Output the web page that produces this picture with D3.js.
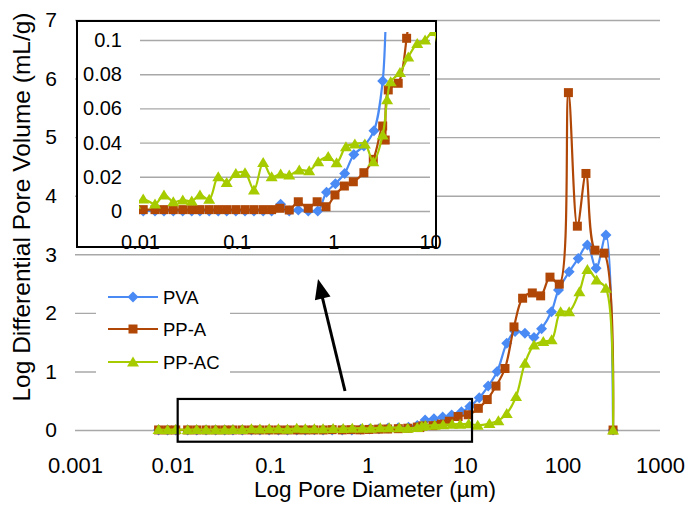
<!DOCTYPE html>
<html>
<head>
<meta charset="utf-8">
<script src="https://cdn.jsdelivr.net/npm/d3@7"></script>
<style>
  body { margin: 0; background: #fff; }
  svg text { font-family: "Liberation Sans", Arial, sans-serif; fill: #000; }
</style>
</head>
<body>
<div class="chart"></div>
<script>

// pore diameter (um) and log differential pore volume (mL/g)
const pvaX = [0.0072, 0.0089, 0.0108, 0.0143, 0.0177, 0.0221, 0.0277, 0.0343, 0.0417, 0.052,
  0.0645, 0.0788, 0.098, 0.122, 0.151, 0.188, 0.23, 0.285, 0.35, 0.434, 0.55, 0.69, 0.85,
  1.05, 1.31, 1.63, 2.07, 2.63, 3.24, 3.9, 4.8, 5.9, 7.3, 9.2, 11.2, 14, 17.3, 21.4, 26.8,
  32.6, 41.2, 51, 61, 77, 91, 117, 145, 180, 221, 279, 330];
const pvaY = [0, 0, 0, 0, 0, 0, 0, 0, 0, 0,
  0, 0, 0, 0, 0, 0, 0, 0.004, 0, 0.0006, 0, 0, 0.011,
  0.016, 0.022, 0.033, 0.038, 0.047, 0.076, 0.17, 0.19, 0.22, 0.256, 0.31, 0.40, 0.55, 0.75, 1.0, 1.48,
  1.68, 1.65, 1.58, 1.73, 2.02, 2.39, 2.70, 2.93, 3.16, 2.76, 3.33, 0];

const ppaX = [0.0072, 0.0089, 0.0108, 0.0143, 0.0177, 0.0221, 0.0277, 0.0343, 0.0417, 0.052,
  0.0645, 0.0788, 0.098, 0.122, 0.151, 0.188, 0.23, 0.28, 0.35, 0.434, 0.55, 0.68, 0.84,
  1.04, 1.30, 1.61, 2.07, 2.59, 3.24, 3.44, 3.70, 4.69, 5.73, 6.9, 8.5, 10.8, 13.7, 16.9, 20.8,
  25.7, 31.8, 39, 49, 59.7, 74.4, 92.7, 115, 142, 174, 215, 267, 330];
const ppaY = [0.0008, 0.0008, 0.0008, 0.0008, 0.0008, 0.0008, 0.0008, 0.0008, 0.0008, 0.0008,
  0.0008, 0.0008, 0.0008, 0.0008, 0.0008, 0.0008, 0.0008, 0.0016, 0.0006, 0.0054, 0.0016, 0.0054, 0.0025,
  0.0094, 0.0146, 0.0171, 0.0224, 0.0302, 0.0497, 0.0415, 0.0708, 0.0747, 0.101, 0.15, 0.23, 0.26, 0.37, 0.52, 0.75,
  1.05, 1.76, 2.25, 2.34, 2.29, 2.61, 2.49, 5.76, 3.48, 4.38, 3.07, 3.02, 0];

const ppacX = [0.0072, 0.0089, 0.0108, 0.0143, 0.0177, 0.0221, 0.0277, 0.0343, 0.0417, 0.052,
  0.0645, 0.0788, 0.098, 0.122, 0.151, 0.188, 0.23, 0.285, 0.35, 0.444, 0.563, 0.698, 0.885,
  1.08, 1.35, 1.67, 2.12, 2.59, 3.24, 3.6, 3.92, 4.89, 5.96, 7.38, 8.9, 10.9, 13.5, 17.8, 22,
  26.8, 33.4, 41.2, 51, 63.5, 77.4, 95.7, 117, 149, 180, 224, 279, 330];
const ppacY = [0.008, 0.004, 0.007, 0.0041, 0.0094, 0.0054, 0.0064, 0.0058, 0.0094, 0.0068,
  0.020, 0.0166, 0.022, 0.0224, 0.0123, 0.0283, 0.020, 0.0216, 0.021, 0.024, 0.0236, 0.0288, 0.0318,
  0.0282, 0.0376, 0.0392, 0.0392, 0.0288, 0.0444, 0.065, 0.0756, 0.081, 0.090, 0.098, 0.10, 0.105, 0.08, 0.11, 0.16,
  0.28, 0.57, 1.14, 1.45, 1.51, 1.54, 2.02, 2.02, 2.36, 2.74, 2.56, 2.42, 0];

const seriesNames = ['PVA', 'PP-A', 'PP-AC'];
const seriesColors = ['#4a8af4', '#b04706', '#a6cc00'];
const seriesShapes = ['diamond', 'square', 'triangle'];

const mainXTicks = [0.001, 0.01, 0.1, 1, 10, 100, 1000];
const mainYTicks = [0, 1, 2, 3, 4, 5, 6, 7];
const insetXTicks = [0.01, 0.1, 1, 10];
const insetYTicks = [0, 0.02, 0.04, 0.06, 0.08, 0.1];

(function() {

  let svg = d3.select('.chart').append('svg')
    .attr('width', 686)
    .attr('height', 506);

  let series = [
    { x: pvaX, y: pvaY },
    { x: ppaX, y: ppaY },
    { x: ppacX, y: ppacY }
  ].map((s, i) => ({
    name: seriesNames[i],
    color: seriesColors[i],
    shape: seriesShapes[i],
    points: s.x.map((x, j) => [x, s.y[j]])
  }));

  // marker path for each shape
  function markerPath(shape) {
    if (shape === 'diamond') return 'M0,-5.5L5.5,0L0,5.5L-5.5,0Z';
    if (shape === 'square') return 'M-4.5,-4.5H4.5V4.5H-4.5Z';
    return 'M0,-5.5L6,4.5L-6,4.5Z';
  }

  // ---------------- main chart ----------------
  let xMain = d3.scaleLog().domain([0.001, 1000]).range([75, 660]);
  let yMain = d3.scaleLinear().domain([0, 7]).range([430, 20]);

  // grid lines
  svg.append('g')
    .attr('transform', 'translate(75, 0)')
    .call(d3.axisLeft(yMain).tickValues(mainYTicks).tickSize(-(660 - 75)).tickFormat(''))
    .call(g => g.select('.domain').remove())
    .call(g => g.selectAll('line').attr('stroke', '#a8a8a8').attr('stroke-width', 1.4));

  // y tick labels
  svg.append('g')
    .attr('transform', 'translate(75, 0)')
    .call(d3.axisLeft(yMain).tickValues(mainYTicks).tickSize(0).tickPadding(18).tickFormat(d => String(d)))
    .call(g => g.select('.domain').remove())
    .call(g => g.selectAll('text').attr('font-size', 21).attr('font-family', null).attr('fill', '#000'));

  // x tick labels
  svg.append('g')
    .attr('transform', 'translate(0, 430)')
    .call(d3.axisBottom(xMain).tickValues(mainXTicks).tickSize(0).tickPadding(27).tickFormat(d => String(d)))
    .call(g => g.select('.domain').remove())
    .call(g => g.selectAll('text').attr('font-size', 22).attr('font-family', null).attr('fill', '#000'));

  svg.append('text')
    .attr('x', 375)
    .attr('y', 497)
    .attr('text-anchor', 'middle')
    .attr('font-size', 22.5)
    .text('Log Pore Diameter (µm)');

  svg.append('text')
    .attr('transform', 'translate(30, 207)rotate(-90)')
    .attr('text-anchor', 'middle')
    .attr('font-size', 24.5)
    .text('Log Differential Pore Volume (mL/g)');

  function drawSeries(g, xScale, yScale, clip) {
    let line = d3.line()
      .x(d => xScale(d[0]))
      .y(d => yScale(d[1]))
      .curve(d3.curveCatmullRom.alpha(0.5));

    series.forEach(s => {
      let sg = g.append('g');
      if (clip) sg.attr('clip-path', 'url(#' + clip + ')');
      sg.append('path')
        .datum(s.points)
        .attr('d', line)
        .attr('fill', 'none')
        .attr('stroke', s.color)
        .attr('stroke-width', 2.2);
      sg.selectAll('.mk')
        .data(s.points)
        .enter()
        .append('path')
          .attr('d', markerPath(s.shape))
          .attr('transform', d => 'translate(' + xScale(d[0]) + ',' + yScale(d[1]) + ')')
          .attr('fill', s.color);
    });
  }

  drawSeries(svg.append('g'), xMain, yMain, null);

  // box marking the zoomed region and the arrow to the inset
  svg.append('rect')
    .attr('x', xMain(0.0113))
    .attr('y', yMain(0.53))
    .attr('width', xMain(11.8) - xMain(0.0113))
    .attr('height', yMain(-0.2) - yMain(0.53))
    .attr('fill', 'none')
    .attr('stroke', '#000')
    .attr('stroke-width', 2.2);

  svg.append('line')
    .attr('x1', 345).attr('y1', 391)
    .attr('x2', 322).attr('y2', 296)
    .attr('stroke', '#000')
    .attr('stroke-width', 3);
  svg.append('path')
    .attr('d', 'M318,279L330.5,296.5L314.9,300.3Z')
    .attr('fill', '#000');

  // legend
  let legend = svg.append('g');
  legend.append('rect')
    .attr('x', 96).attr('y', 282)
    .attr('width', 134).attr('height', 92)
    .attr('fill', '#fff');
  let legendY = [297, 329, 362];
  series.forEach((s, i) => {
    legend.append('line')
      .attr('x1', 108).attr('x2', 158)
      .attr('y1', legendY[i]).attr('y2', legendY[i])
      .attr('stroke', s.color)
      .attr('stroke-width', 2.2);
    legend.append('path')
      .attr('d', markerPath(s.shape))
      .attr('transform', 'translate(133,' + legendY[i] + ')')
      .attr('fill', s.color);
    legend.append('text')
      .attr('x', 163)
      .attr('y', legendY[i])
      .attr('dy', '0.36em')
      .attr('font-size', 18.5)
      .text(s.name);
  });

  // ---------------- inset ----------------
  let xIn = d3.scaleLog().domain([0.01, 10]).range([140, 430]);
  let yIn = d3.scaleLinear().domain([0, 0.1]).range([211, 40]);

  svg.append('defs').append('clipPath')
    .attr('id', 'insetClip')
    .append('rect')
    .attr('x', 139).attr('y', 32)
    .attr('width', 297).attr('height', 190);

  let inset = svg.append('g');
  inset.append('rect')
    .attr('x', 77).attr('y', 21)
    .attr('width', 359).attr('height', 226)
    .attr('fill', '#fff')
    .attr('stroke', '#000')
    .attr('stroke-width', 2);

  inset.append('g')
    .attr('transform', 'translate(140, 0)')
    .call(d3.axisLeft(yIn).tickValues(insetYTicks).tickSize(-(430 - 140)).tickFormat(''))
    .call(g => g.select('.domain').remove())
    .call(g => g.selectAll('line').attr('stroke', '#a8a8a8').attr('stroke-width', 1.4));

  inset.append('g')
    .attr('transform', 'translate(140, 0)')
    .call(d3.axisLeft(yIn).tickValues(insetYTicks).tickSize(0).tickPadding(18).tickFormat(d => String(d)))
    .call(g => g.select('.domain').remove())
    .call(g => g.selectAll('text').attr('font-size', 20).attr('font-family', null).attr('fill', '#000'));

  inset.append('g')
    .attr('transform', 'translate(0, 211)')
    .call(d3.axisBottom(xIn).tickValues(insetXTicks).tickSize(0).tickPadding(24).tickFormat(d => String(d)))
    .call(g => g.select('.domain').remove())
    .call(g => g.selectAll('text').attr('font-size', 20).attr('font-family', null).attr('fill', '#000'));

  drawSeries(inset.append('g'), xIn, yIn, 'insetClip');

})();
</script>
</body>
</html>
